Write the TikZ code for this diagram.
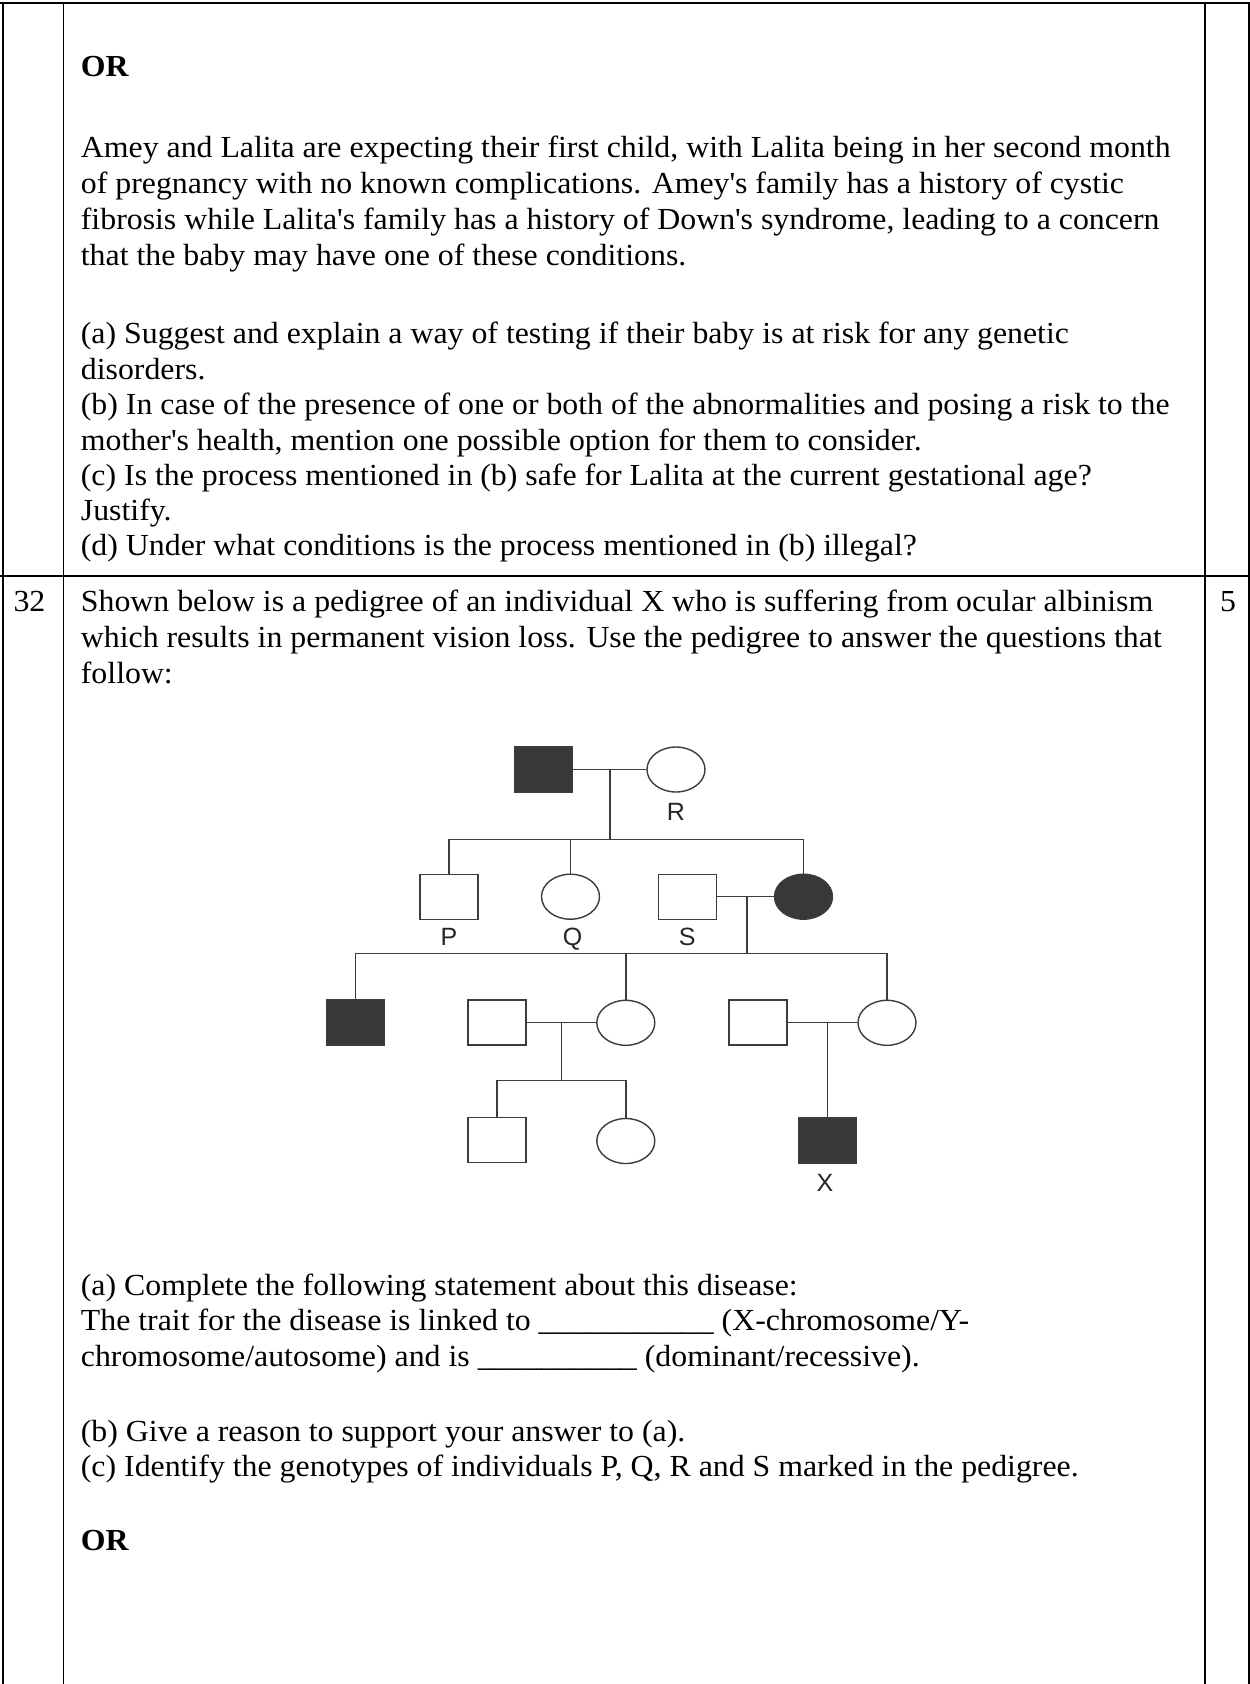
\documentclass[tikz,border=0pt]{standalone}
\usepackage{fontspec}
\setmainfont{Liberation Serif}[FakeStretch=1.04]
\newfontfamily\pedfont{Liberation Sans}
\usetikzlibrary{shapes.geometric}
\definecolor{pedline}{HTML}{3C3C3C}
\definecolor{pedfill}{HTML}{383838}
\newcommand{\apos}{\textquotesingle}
\tikzset{
  txt/.style={anchor=base west, inner sep=0pt, font=\fontsize{30.6}{35}\selectfont},
  boldtxt/.style={anchor=base west, inner sep=0pt, font=\fontsize{30.6}{35}\selectfont\bfseries},
  tablerule/.style={line width=1.6pt, black},
  male/.style={rectangle, draw=pedline, line width=1.4pt, inner sep=0pt, minimum width=58pt, minimum height=45pt},
  female/.style={ellipse, draw=pedline, line width=1.4pt, inner sep=0pt, minimum width=58pt, minimum height=45pt},
  aff/.style={fill=pedfill},
  lnk/.style={draw=pedline, line width=1.4pt},
  lbl/.style={anchor=base, inner sep=0pt, text=black!85, font=\pedfont\fontsize{25}{25}\selectfont}
}
\begin{document}
\begin{tikzpicture}[x=1pt, y=-1pt]
\fill[white] (0,0) rectangle (1250,1684);
\useasboundingbox (0,0) rectangle (1250,1684);

% table rules
\draw[tablerule] (0,2.7) -- (1250,2.7);
\draw[tablerule] (0,576) -- (1250,576);
\draw[tablerule] (2.7,2.7) -- (2.7,1684);
\draw[tablerule] (63.3,2.7) -- (63.3,1684);
\draw[tablerule] (1205,2.7) -- (1205,1684);
\draw[tablerule] (1249,2.7) -- (1249,1684);

% first row text
\node[boldtxt] (or1) at (80.7,76) {OR};
\node[txt] (t1) at (80.7,157) {Amey and Lalita are expecting their first child, with Lalita being in her second month};
\node[txt] (t2) at (80.7,193) {of pregnancy with no known complications. Amey\apos s family has a history of cystic};
\node[txt] (t3) at (80.7,229) {fibrosis while Lalita\apos s family has a history of Down\apos s syndrome, leading to a concern};
\node[txt] (t4) at (80.7,265) {that the baby may have one of these conditions.};
\node[txt] (t5) at (80.7,343) {(a) Suggest and explain a way of testing if their baby is at risk for any genetic};
\node[txt] (t6) at (80.7,379) {disorders.};
\node[txt] (t7) at (80.7,414) {(b) In case of the presence of one or both of the abnormalities and posing a risk to the};
\node[txt] (t8) at (80.7,450) {mother\apos s health, mention one possible option for them to consider.};
\node[txt] (t9) at (80.7,485) {(c) Is the process mentioned in (b) safe for Lalita at the current gestational age?};
\node[txt] (t10) at (80.7,520) {Justify.};
\node[txt] (t11) at (80.7,555) {(d) Under what conditions is the process mentioned in (b) illegal?};

% second row text
\node[txt] (num) at (13.3,611.7) {32};
\node[txt] (marks) at (1220,611.7) {5};
\node[txt] (u1) at (80.7,611.7) {Shown below is a pedigree of an individual X who is suffering from ocular albinism};
\node[txt] (u2) at (80.7,647.5) {which results in permanent vision loss. Use the pedigree to answer the questions that};
\node[txt] (u3) at (80.7,683) {follow:};
\node[txt] (v1) at (80.7,1295) {(a) Complete the following statement about this disease:};
\node[txt] (v2) at (80.7,1330.7) {The trait for the disease is linked to \_\_\_\_\_\_\_\_\_\_\_ (X-chromosome/Y-};
\node[txt] (v3) at (80.7,1366.7) {chromosome/autosome) and is \_\_\_\_\_\_\_\_\_\_ (dominant/recessive).};
\node[txt] (v4) at (80.7,1441.7) {(b) Give a reason to support your answer to (a).};
\node[txt] (v5) at (80.7,1476.7) {(c) Identify the genotypes of individuals P, Q, R and S marked in the pedigree.};
\node[boldtxt] (or2) at (80.7,1550) {OR};

% pedigree: generation I
\node[male,aff] (I1) at (543.3,769.5) {};
\node[female] (I2) at (676,769.5) {};
\node[lbl] (lR) at (675.8,820.7) {R};
\draw[lnk] (I1.east) -- (I2.west);
\coordinate (m1) at (610,769.5);
\coordinate (s1) at (610,839.3);
\draw[lnk] (m1) -- (s1);

% generation II
\node[male] (P) at (449,896.7) {};
\node[female] (Q) at (570.5,896.7) {};
\node[male] (S) at (687.5,896.7) {};
\node[female,aff] (II4) at (803.5,896.7) {};
\node[lbl] (lP) at (449,945) {P};
\node[lbl] (lQ) at (572.7,945) {Q};
\node[lbl] (lS) at (687.3,945) {S};
\draw[lnk] (P.north) -- (P.north |- s1) -- (II4.north |- s1) -- (II4.north);
\draw[lnk] (Q.north |- s1) -- (Q.north);
\draw[lnk] (S.east) -- (II4.west);
\coordinate (m2) at (747,896.7);
\coordinate (s2) at (747,953.3);
\draw[lnk] (m2) -- (s2);

% generation III
\node[male,aff] (III1) at (355.3,1022.5) {};
\node[male] (III2) at (496.8,1022.5) {};
\node[female] (III3) at (625.8,1022.8) {};
\node[male] (III4) at (757.8,1022.5) {};
\node[female] (III5) at (887,1022.8) {};
\draw[lnk] (III1.north) -- (III1.north |- s2) -- (III5.north |- s2) -- (III5.north);
\draw[lnk] (III3.north |- s2) -- (III3.north);
\draw[lnk] (III2.east) -- (III2.east -| III3.west);
\draw[lnk] (III4.east) -- (III4.east -| III5.west);
\coordinate (m3) at (561.2,1022.5);
\coordinate (s3) at (561.2,1080.7);
\draw[lnk] (m3) -- (s3);

% generation IV
\node[male] (IV1) at (496.8,1139.7) {};
\node[female] (IV2) at (625.8,1141) {};
\node[male,aff] (X) at (827.4,1140.5) {};
\node[lbl] (lX) at (825,1191.7) {X};
\draw[lnk] (IV1.north) -- (IV1.north |- s3) -- (IV2.north |- s3) -- (IV2.north);
\coordinate (m4) at (827.4,1022.5);
\draw[lnk] (m4) -- (X.north);
\end{tikzpicture}
\end{document}
